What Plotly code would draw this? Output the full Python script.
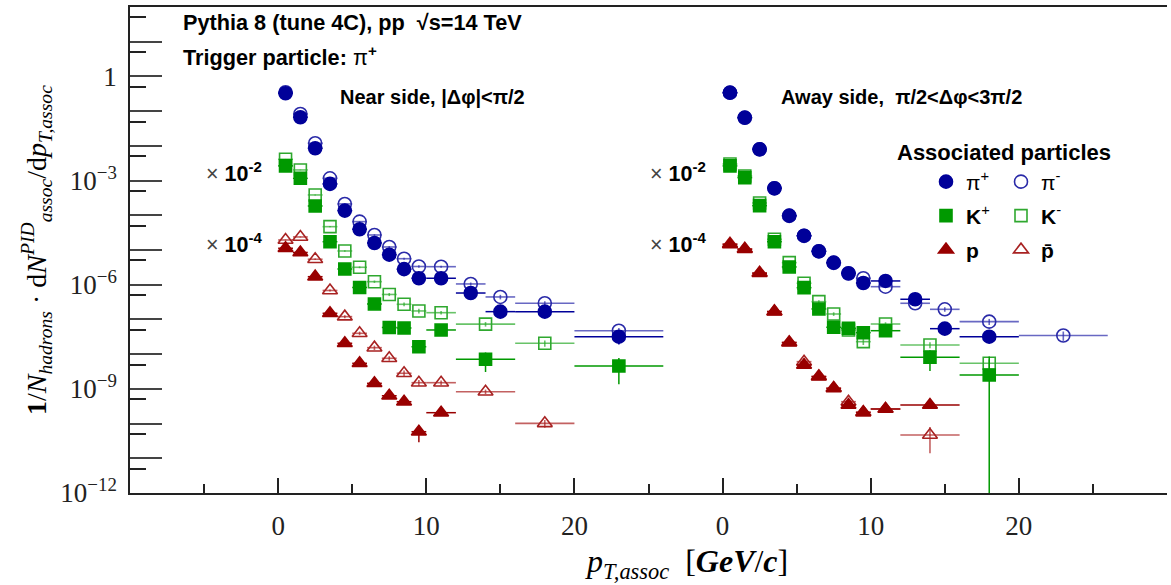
import numpy as np
import plotly.graph_objects as go

# ---------------------------------------------------------------
# pT binning (GeV/c) for pions and for kaons / protons
PI_EDGES = [0, 1, 2, 3, 4, 5, 6, 7, 8, 9, 10, 12, 14, 16, 20, 26]
KP_EDGES = [0, 1, 2, 3, 4, 5, 6, 7, 8, 9, 10, 12, 16, 20, 26]

# the away-side panel is drawn on the same axis, shifted along x
AWAY_OFFSET = 30

# scale factors applied to kaons and protons for display
K_SCALE = 1e-2
P_SCALE = 1e-4

# ---- pions (per PI_EDGES bin) ----
NEAR_PI_PLUS = [0.328, 0.0667, 8.5e-3, 8.0e-4, 1.36e-4, 3.95e-5, 1.59e-5, 7.3e-6,
                2.8e-6, 1.53e-6, 1.53e-6, 5.75e-7, 1.67e-7, 1.67e-7, 3.17e-8]
NEAR_PI_MINUS = [0.351, 0.083, 1.19e-2, 1.16e-3, 2.12e-4, 6.55e-5, 2.70e-5, 1.22e-5,
                 5.6e-6, 3.34e-6, 3.30e-6, 1.05e-6, 4.43e-7, 2.91e-7, 4.72e-8]
AWAY_PI_PLUS = [0.341, 0.065, 7.98e-3, 6.0e-4, 9.73e-5, 2.58e-5, 9.18e-6, 4.31e-6,
                2.13e-6, 1.12e-6, 1.28e-6, 3.8e-7, 5.4e-8, 3.17e-8, None]
AWAY_PI_MINUS = [0.338, 0.0645, 7.9e-3, 5.95e-4, 9.6e-5, 2.55e-5, 9.1e-6, 4.25e-6,
                 2.1e-6, 1.53e-6, 8.75e-7, 2.91e-7, 1.95e-7, 8.6e-8, 3.44e-8]

NEAR_PI_PLUS_ERR = [0.02, 0.02, 0.02, 0.03, 0.03, 0.04, 0.05, 0.06, 0.08, 0.1, 0.08, 0.12, 0.2, 0.2, 0.4]
NEAR_PI_MINUS_ERR = [0.02, 0.02, 0.02, 0.03, 0.03, 0.04, 0.05, 0.06, 0.07, 0.08, 0.07, 0.1, 0.15, 0.15, 0.2]
AWAY_PI_PLUS_ERR = [0.02, 0.02, 0.02, 0.03, 0.03, 0.04, 0.05, 0.06, 0.08, 0.1, 0.08, 0.12, 0.25, 0.3, 0.0]
AWAY_PI_MINUS_ERR = [0.02, 0.02, 0.02, 0.03, 0.03, 0.04, 0.05, 0.06, 0.08, 0.1, 0.08, 0.12, 0.15, 0.2, 0.3]

# ---- kaons (per KP_EDGES bin, unscaled) ----
NEAR_K_PLUS = [0.264, 0.116, 0.0185, 1.73e-3, 2.83e-4, 8.3e-5, 2.78e-5, 5.85e-6,
               5.65e-6, 1.63e-6, 4.95e-6, 7.1e-7, None, 4.54e-7]
NEAR_K_MINUS = [0.411, 0.202, 0.0385, 4.69e-3, 9.35e-4, 3.17e-4, 1.22e-4, 5.22e-5,
                2.72e-5, 1.75e-5, 1.56e-5, 7.28e-6, 2.05e-6, None]
AWAY_K_PLUS = [0.264, 0.121, 0.0189, 1.73e-3, 3.24e-4, 8.2e-5, 2.0e-5, 5.92e-6,
               5.55e-6, 4.14e-6, 4.72e-6, 8.09e-7, 2.5e-7, None]
AWAY_K_MINUS = [0.30, 0.135, 0.0226, 2.03e-3, 4.31e-4, 1.10e-4, 3.24e-5, 1.43e-5,
                4.95e-6, 2.28e-6, 7.36e-6, 1.83e-6, 5.43e-7, None]

NEAR_K_PLUS_ERR = [0.02, 0.02, 0.03, 0.04, 0.05, 0.07, 0.1, 0.15, 0.15, 0.3, 0.15, 0.57, 0.0, 0.7]
NEAR_K_MINUS_ERR = [0.02, 0.02, 0.03, 0.04, 0.05, 0.06, 0.08, 0.1, 0.12, 0.15, 0.12, 0.15, 0.2, 0.0]
AWAY_K_PLUS_ERR = [0.02, 0.02, 0.03, 0.04, 0.05, 0.07, 0.1, 0.15, 0.15, 0.2, 0.15, 0.6, 2.4, 0.0]
AWAY_K_MINUS_ERR = [0.02, 0.02, 0.03, 0.04, 0.05, 0.07, 0.1, 0.12, 0.15, 0.2, 0.12, 0.2, 0.3, 0.0]

# ---- protons (per KP_EDGES bin, unscaled) ----
NEAR_P = [0.112, 0.0847, 0.017, 1.5e-3, 2.05e-4, 5.43e-5, 1.44e-5, 6.32e-6,
          4.25e-6, 5.81e-7, 2.05e-6, None, None, None]
NEAR_PBAR = [0.194, 0.237, 0.054, 6.81e-3, 1.2e-3, 3.97e-4, 1.53e-4, 7.57e-5,
             2.8e-5, 1.5e-5, 1.5e-5, 8.24e-6, 1.01e-6, None]
AWAY_P = [0.144, 0.105, 0.0213, 1.67e-3, 2.13e-4, 4.85e-5, 2.23e-5, 1.03e-5,
          3.41e-6, 2.1e-6, 2.62e-6, 3.41e-6, None, None]
AWAY_PBAR = [0.15, 0.108, 0.022, 1.7e-3, 2.2e-4, 6.04e-5, 2.3e-5, 1.05e-5,
             4.25e-6, 2.1e-6, 2.62e-6, 4.67e-7, None, None]

NEAR_P_ERR = [0.03, 0.03, 0.05, 0.07, 0.1, 0.12, 0.15, 0.2, 0.2, 0.5, 0.2, 0.0, 0.0, 0.0]
NEAR_PBAR_ERR = [0.03, 0.03, 0.05, 0.07, 0.1, 0.12, 0.15, 0.15, 0.2, 0.2, 0.15, 0.15, 0.25, 0.0]
AWAY_P_ERR = [0.03, 0.03, 0.05, 0.07, 0.1, 0.12, 0.15, 0.15, 0.2, 0.2, 0.15, 0.2, 0.0, 0.0]
AWAY_PBAR_ERR = [0.03, 0.03, 0.05, 0.07, 0.1, 0.12, 0.15, 0.15, 0.2, 0.2, 0.15, 0.7, 0.0, 0.0]

REFERENCE_LEVEL = 1.0

# axis tick labels
X_TICKS = [0, 10, 20, 30, 40, 50]
X_TICK_TEXT = ["0", "10", "20", "0", "10", "20"]
X_MINOR = [-5, 5, 15, 25, 35, 45, 55]
Y_LABELED = {0: "1", -3: "10<sup>−3</sup>", -6: "10<sup>−6</sup>",
             -9: "10<sup>−9</sup>", -12: "10<sup>−12</sup>"}

BLUE, GREEN, RED = "#000099", "#009900", "#990000"


def collect(edges, near, away, near_err, away_err, scale):
    lo = np.array(edges[:-1], dtype=float)
    hi = np.array(edges[1:], dtype=float)
    centers, halves = (lo + hi) / 2, (hi - lo) / 2
    xs, ys, exs, eys = [], [], [], []
    for offset, vals, rel in ((0, near, near_err), (AWAY_OFFSET, away, away_err)):
        for c, h, v, r in zip(centers, halves, vals, rel):
            if v is None:
                continue
            xs.append(c + offset)
            ys.append(v * scale)
            exs.append(h)
            eys.append(v * scale * r)
    return xs, ys, exs, eys


def series(name, data, symbol, color, line_color, bar_color, legend, rank, size, bar_w):
    xs, ys, exs, eys = data
    return go.Scatter(
        x=xs, y=ys, mode="markers", name=name,
        marker=dict(symbol=symbol, size=size, color=color,
                    line=dict(color=line_color, width=1.6)),
        error_x=dict(type="data", array=exs, color=bar_color, thickness=bar_w, width=0),
        error_y=dict(type="data", array=eys, color=bar_color, thickness=bar_w, width=0),
        legend=legend, legendrank=rank, hoverinfo="x+y",
    )


fig = go.Figure()

# open markers first so the filled ones sit on top
fig.add_trace(series("π<sup>-</sup>",
                     collect(PI_EDGES, NEAR_PI_MINUS, AWAY_PI_MINUS, NEAR_PI_MINUS_ERR, AWAY_PI_MINUS_ERR, 1.0),
                     "circle-open", "#2a2aa8", "#2a2aa8", "rgba(40,40,170,0.7)", "legend", 2, 13, 1.6))
fig.add_trace(series("<b>K</b><sup>-</sup>",
                     collect(KP_EDGES, NEAR_K_MINUS, AWAY_K_MINUS, NEAR_K_MINUS_ERR, AWAY_K_MINUS_ERR, K_SCALE),
                     "square-open", "#2fa82f", "#2fa82f", "rgba(40,170,40,0.7)", "legend2", 2, 12, 1.6))
fig.add_trace(series("<b>p\u0304</b>",
                     collect(KP_EDGES, NEAR_PBAR, AWAY_PBAR, NEAR_PBAR_ERR, AWAY_PBAR_ERR, P_SCALE),
                     "triangle-up-open", "#a82222", "#a82222", "rgba(170,30,30,0.7)", "legend3", 2, 13, 1.6))
fig.add_trace(series("π<sup>+</sup>",
                     collect(PI_EDGES, NEAR_PI_PLUS, AWAY_PI_PLUS, NEAR_PI_PLUS_ERR, AWAY_PI_PLUS_ERR, 1.0),
                     "circle", BLUE, BLUE, BLUE, "legend", 1, 13, 1.5))
fig.add_trace(series("<b>K</b><sup>+</sup>",
                     collect(KP_EDGES, NEAR_K_PLUS, AWAY_K_PLUS, NEAR_K_PLUS_ERR, AWAY_K_PLUS_ERR, K_SCALE),
                     "square", GREEN, GREEN, GREEN, "legend2", 1, 12, 1.5))
fig.add_trace(series("<b>p</b>",
                     collect(KP_EDGES, NEAR_P, AWAY_P, NEAR_P_ERR, AWAY_P_ERR, P_SCALE),
                     "triangle-up", RED, RED, RED, "legend3", 1, 13, 1.5))

# plot-area geometry in pixels, used to place the text boxes
W, H = 1171, 585
L, R, T, B = 130, 1167, 7, 493


def px(xp):
    return (xp - L) / (R - L)


def py(yp):
    return (B - yp) / (B - T)


SANS = "Liberation Sans"
SERIF = "Liberation Serif"

ann = []


def label(text, x, y, size=20, anchor="left", family=SANS, **kw):
    ann.append(dict(text=text, x=px(x), y=py(y), xref="paper", yref="paper",
                    xanchor=anchor, yanchor="middle", showarrow=False,
                    font=dict(family=family, size=size, color="black"), **kw))


label("<b>Pythia 8 (tune 4C), pp  √s=14 TeV</b>", 181, 22, size=21.7)
label("<b>Trigger particle: </b>π<b><sup>+</sup></b>", 181, 56, size=21.7)
label("<b>Near side, |Δφ|&lt;π/2</b>", 338, 97)
label("<b>Away side,  π/2&lt;Δφ&lt;3π/2</b>", 779, 97)
for xx in (204, 648):
    label("<span style='color:#444'>×</span> <b>10<sup>-2</sup></b>", xx, 172, size=21.5)
    label("<span style='color:#444'>×</span> <b>10<sup>-4</sup></b>", xx, 243, size=21.5)
label("<b>Associated particles</b>", 895, 152, size=22)
label("<i>p</i><sub><i>T,assoc</i></sub>  [<i><b>GeV</b></i>/<i><b>c</b></i>]", 686, 563,
      size=32, anchor="center", family=SERIF)
label("<b>1</b>/<i>N</i><sub><i>hadrons</i></sub> · d<i>N</i><sup><i>PID</i></sup><sub><i>assoc</i></sub>"
      "/d<i>p</i><sub><i>T,assoc</i></sub>", 36, 250, size=28, anchor="center",
      family=SERIF, textangle=-90)

legend_style = dict(orientation="h", xanchor="left", yanchor="middle",
                    bgcolor="rgba(0,0,0,0)", entrywidth=30, itemwidth=30,
                    font=dict(family=SANS, size=21, color="black"))

fig.update_layout(
    width=W, height=H,
    margin=dict(l=L, r=W - R, t=T, b=H - B, pad=0),
    paper_bgcolor="white", plot_bgcolor="white",
    annotations=ann,
    legend=dict(x=px(926), y=py(182), **legend_style),
    legend2=dict(x=px(926), y=py(216), **legend_style),
    legend3=dict(x=px(926), y=py(250), **legend_style),
    shapes=[dict(type="line", xref="paper", x0=0, x1=1, yref="y",
                 y0=np.log10(REFERENCE_LEVEL), y1=np.log10(REFERENCE_LEVEL),
                 line=dict(color="black", width=3, dash="9px,5px"))],
    xaxis=dict(range=[-10, 60], showgrid=False, zeroline=False,
               showline=True, linecolor="#222", linewidth=1.5, mirror=True,
               tickmode="array", tickvals=X_TICKS, ticktext=X_TICK_TEXT,
               ticks="inside", ticklen=15, tickwidth=1.5, tickcolor="#222",
               ticklabelstandoff=8,
               tickfont=dict(family=SERIF, size=27, color="#222"),
               minor=dict(tickmode="array", tickvals=X_MINOR, ticks="inside",
                          ticklen=9, tickwidth=1.5, tickcolor="#222", showgrid=False)),
    yaxis=dict(type="log", range=[-12.002, 2.0], showgrid=False, zeroline=False,
               showline=True, linecolor="#222", linewidth=1.5, mirror=False,
               tickmode="array",
               tickvals=[10.0 ** k for k in range(-12, 3)],
               ticktext=[Y_LABELED.get(k, "") for k in range(-12, 3)],
               ticks="inside", ticklen=32, tickwidth=1.5, tickcolor="#444",
               ticklabelstandoff=6,
               tickfont=dict(family=SERIF, size=27, color="#222"),
               minor=dict(tickmode="array",
                          tickvals=[5 * 10.0 ** k for k in range(-13, 2)],
                          ticks="inside", ticklen=16, tickwidth=1.5,
                          tickcolor="#222", showgrid=False)),
)

fig.write_html("out.html")
